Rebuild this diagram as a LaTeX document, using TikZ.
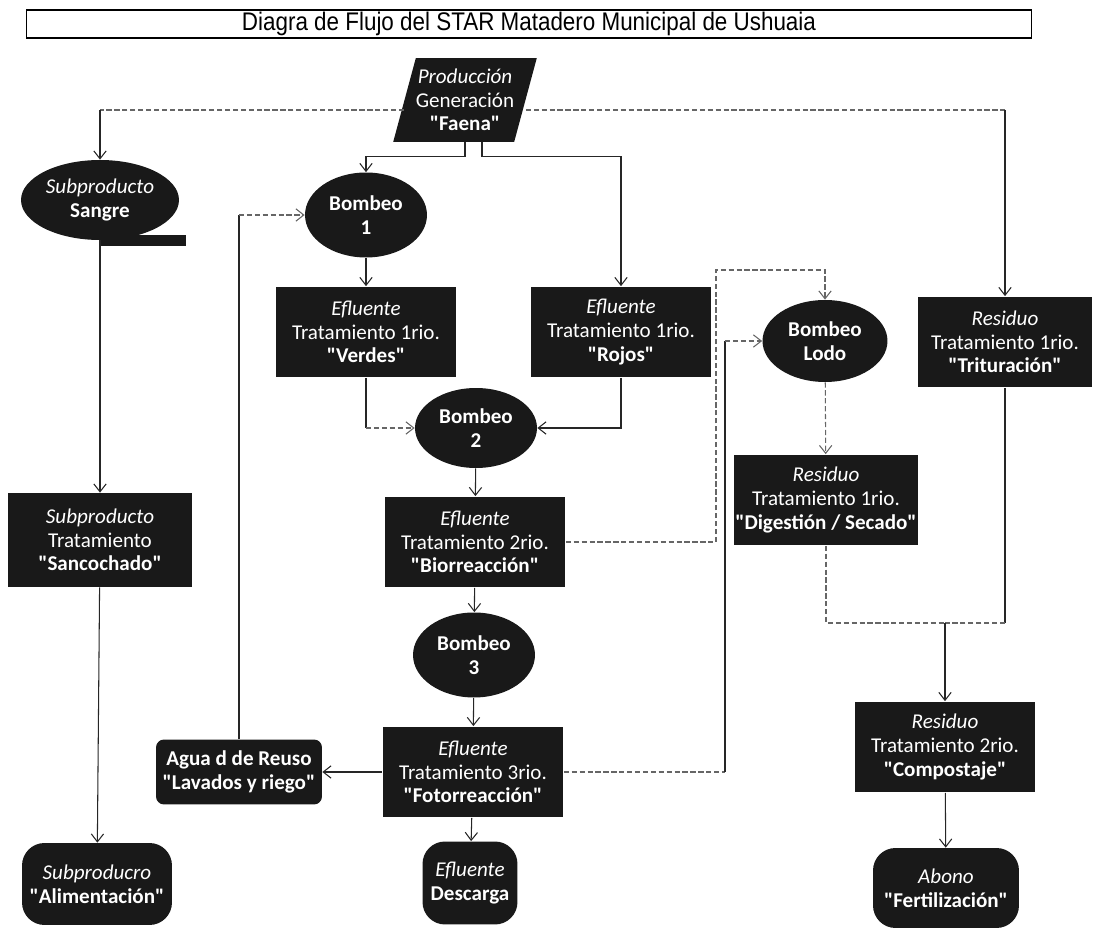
\documentclass[tikz,border=0pt]{standalone}
\usepackage{fontspec}
\setmainfont{Carlito}
\newfontfamily\titulofont{Liberation Sans}
\usetikzlibrary{shapes.geometric,arrows.meta}
\newcommand{\comillas}[1]{\textbf{\textquotedbl#1\textquotedbl}}

\begin{document}
\begin{tikzpicture}[x=0.02cm,y=-0.02cm,
		>={Straight Barb[length=4.5pt,width=7pt]},
		caja/.style={fill=black!90,text=white,align=center,inner sep=1pt,
				minimum width=3.62cm,minimum height=1.82cm,
				font=\fontsize{12}{13.5}\selectfont},
		bomba/.style={caja,ellipse,minimum width=2.44cm,minimum height=1.7cm},
		fin/.style={caja,rounded corners=0.45cm,minimum width=3cm,minimum height=1.64cm},
		flujo/.style={draw=black!85,line width=0.6pt},
		punteado/.style={flujo,draw=black!60,dash pattern=on 3pt off 1.5pt}]
	\useasboundingbox (0,0) rectangle (1093,928);

	% titulo
	\node[draw=black,line width=0.9pt,minimum width=20.1cm,minimum height=0.56cm,inner sep=0pt]
		(titulo) at (529,24)
		{\titulofont\fontsize{14.5}{16}\selectfont\scalebox{0.88}[1]{Diagra de Flujo del STAR Matadero Municipal de Ushuaia}};

	% nodos
	\node[caja,trapezium,trapezium left angle=70,trapezium right angle=110,
		trapezium stretches body,minimum width=2.6cm,minimum height=1.68cm,inner sep=0pt]
		(prod) at (465,100) {{\itshape Producción}\\Generación\\\comillas{Faena}};

	\node[bomba,minimum width=3.1cm,minimum height=1.6cm] (sangre) at (100,200)
		{{\itshape Subproducto}\\\textbf{Sangre}};
	\fill[black!90] (sangre.south) ++(0,-5) rectangle ++(86,11);

	\node[bomba] (b1) at (366,215) {\textbf{Bombeo}\\\textbf{1}};
	\node[caja] (verdes) at (366,332) {{\itshape Efluente}\\Tratamiento 1rio.\\\comillas{Verdes}};
	\node[caja] (rojos) at (621,332) {{\itshape Efluente}\\Tratamiento 1rio.\\\comillas{Rojos}};
	\node[bomba,minimum width=2.5cm,minimum height=1.64cm] (lodo) at (825,341) {\textbf{Bombeo}\\\textbf{Lodo}};
	\node[caja,minimum width=3.5cm] (trit) at (1005,342) {{\itshape Residuo}\\Tratamiento 1rio.\\\comillas{Trituración}};

	\node[bomba,minimum height=1.6cm] (b2) at (476,428) {\textbf{Bombeo}\\\textbf{2}};
	\node[caja,minimum width=3.68cm,minimum height=1.88cm] (sanco) at (100,540)
		{{\itshape Subproducto}\\Tratamiento\\\comillas{Sancochado}};
	\node[caja] (bio) at (475,542) {{\itshape Efluente}\\Tratamiento 2rio.\\\comillas{Biorreacción}};
	\node[caja] (dig) at (826,500) {{\itshape Residuo}\\Tratamiento 1rio.\\\comillas{Digestión / Secado}};

	\node[bomba] (b3) at (474,655) {\textbf{Bombeo}\\\textbf{3}};
	\node[caja] (foto) at (473,772) {{\itshape Efluente}\\Tratamiento 3rio.\\\comillas{Fotorreacción}};
	\node[caja,rounded corners=0.16cm,minimum width=3.32cm,minimum height=1.3cm] (agua) at (239,772)
		{\textbf{Agua d de Reuso}\\\comillas{Lavados y riego}};
	\node[caja] (comp) at (945,747) {{\itshape Residuo}\\Tratamiento 2rio.\\\comillas{Compostaje}};

	\node[fin] (alim) at (97,884) {{\itshape Subproducro}\\\comillas{Alimentación}};
	\node[fin,minimum width=1.9cm,minimum height=1.66cm] (desc) at (470,883) {{\itshape Efluente}\\\textbf{Descarga}};
	\node[fin,minimum width=2.92cm,minimum height=1.6cm] (abono) at (946,888) {{\itshape Abono}\\\comillas{Fertilización}};

	% puntos de quiebre
	\coordinate (izq) at (100,110);
	\coordinate (der) at (trit.north |- izq);
	\coordinate (v2) at (verdes.south |- b2.west);
	\coordinate (a1) at (agua.north |- b1.west);
	\coordinate (c1) at (716,270);
	\coordinate (c2) at (725,772);
	\coordinate (c3) at (c2 |- lodo.west);
	\coordinate (union) at (945,623);
	\coordinate (t1) at (trit.south |- union);

	% conectores
	\draw[punteado] (prod.west |- izq) -- (izq);
	\draw[flujo,->] (izq) -- (sangre.north);
	\draw[punteado] (prod.east |- der) -- (der);
	\draw[flujo,->] (der) -- (trit.north);
	\draw[flujo,->] (prod.south) -- ++(0,14) -| (b1.north);
	\draw[flujo,->] ([xshift=0.34cm]prod.south) -- ++(0,14) -| (rojos.north);

	\draw[flujo,->] (sangre) -- (sanco);
	\draw[flujo,->] (sanco) -- (alim);

	\draw[flujo,->] (b1) -- (verdes);
	\draw[flujo] (verdes.south) -- (v2);
	\draw[punteado,->] (v2) -- (b2.west);
	\draw[flujo,->] (rojos.south) |- (b2.east);
	\draw[flujo,->] (b2) -- (bio);
	\draw[flujo,->] (bio) -- (b3);
	\draw[flujo,->] (b3) -- (foto);
	\draw[flujo,->] (foto) -- (desc);
	\draw[flujo,->] (foto.west) -- (agua.east);
	\draw[flujo] (agua.north) -- (a1);
	\draw[punteado,->] (a1) -- (b1.west);

	\draw[punteado,->] (bio.east) -| (c1) -| (lodo.north);
	\draw[punteado] (foto.east) -- (c2);
	\draw[flujo] (c2) -- (c3);
	\draw[punteado,->] (c3) -- (lodo.west);
	\draw[punteado,->] (lodo) -- (dig);

	\draw[punteado] (dig.south) |- (union);
	\draw[flujo] (trit.south) -- (t1);
	\draw[punteado] (t1) -- (union);
	\draw[flujo,->] (union) -- (comp.north);
	\draw[flujo,->] (comp) -- (abono);
\end{tikzpicture}
\end{document}
